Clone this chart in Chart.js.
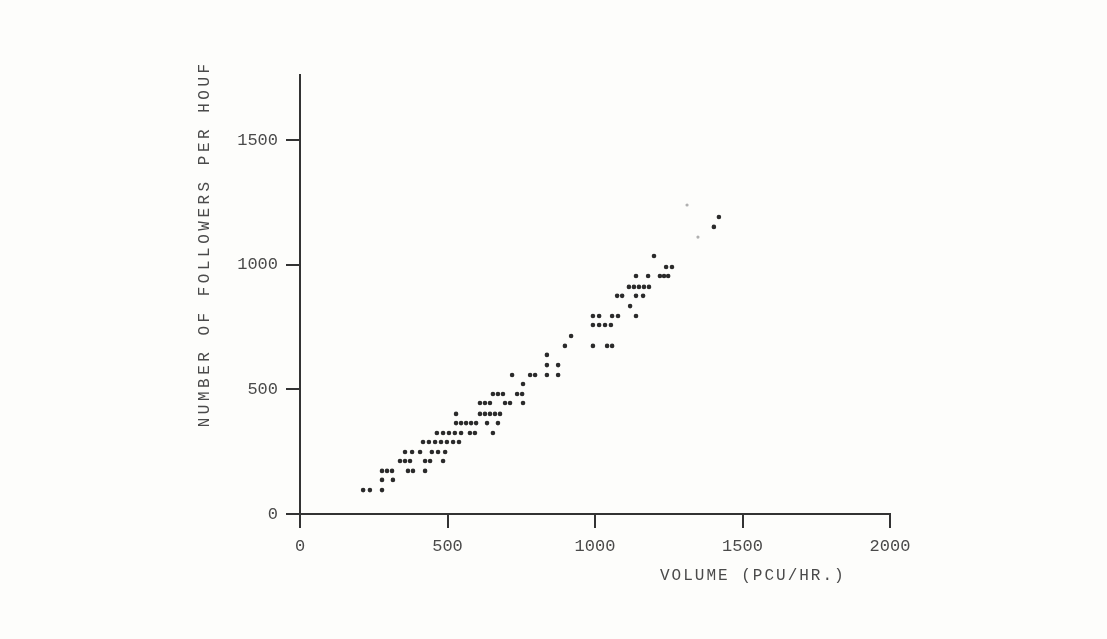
<!DOCTYPE html>
<html>
<head>
<meta charset="utf-8">
<script src="https://cdn.jsdelivr.net/npm/chart.js@4.4.1/dist/chart.umd.min.js"></script>
<style>
  html, body { margin: 0; padding: 0; background: #fdfdfb; }
  #wrap { width: 1107px; height: 639px; }
</style>
</head>
<body>
<div id="wrap"><canvas id="chart"></canvas></div>
<script>
// Tick labels
const xTicks = [0, 500, 1000, 1500, 2000];
const yTicks = [0, 500, 1000, 1500];

// Followers levels (one per printed row) and the volumes printed on each row
const rowFollowers = [96, 137, 173, 213, 249, 289, 325, 365, 402, 446, 482, 522, 558,
  598, 639, 675, 715, 759, 795, 835, 876, 912, 956, 992, 1036, 1153, 1193];
const rowVolumes = [
  [214, 237, 278],
  [278, 315],
  [278, 295, 312, 366, 383, 424],
  [339, 356, 373, 424, 441, 485],
  [356, 380, 407, 447, 468, 492],
  [417, 437, 458, 478, 498, 519, 539],
  [464, 485, 505, 525, 546, 576, 593, 654],
  [529, 546, 563, 580, 597, 634, 671],
  [529, 610, 627, 644, 661, 678],
  [610, 627, 644, 695, 712, 756],
  [654, 671, 688, 736, 753],
  [756],
  [719, 780, 797, 837, 875],
  [837, 875],
  [837],
  [898, 993, 1041, 1058],
  [919],
  [993, 1014, 1034, 1054],
  [993, 1014, 1058, 1078, 1139],
  [1119],
  [1075, 1092, 1139, 1163],
  [1115, 1132, 1149, 1166, 1183],
  [1139, 1180, 1220, 1234, 1248],
  [1241, 1261],
  [1200],
  [1403],
  [1420]
];

// Faint marks on the scan
const faintVolumes = [1349, 1312];
const faintFollowers = [1112, 1241];

// Build the point list
const points = [];
rowFollowers.forEach((f, i) => {
  rowVolumes[i].forEach(v => points.push({ x: v, y: f }));
});
const faintPoints = faintVolumes.map((v, i) => ({ x: v, y: faintFollowers[i] }));

const FONT = "'Liberation Mono', 'DejaVu Sans Mono', monospace";
const INK = '#2b2b2b';
const TEXT = '#4a4a4a';

// Draws the two axis titles in the places they sit on the scan
const axisTitles = {
  id: 'axisTitles',
  afterDraw(chart) {
    const ctx = chart.ctx;
    const xs = chart.scales.x;
    const ys = chart.scales.y;
    ctx.save();
    ctx.fillStyle = TEXT;
    ctx.font = '16px ' + FONT;
    ctx.textAlign = 'center';
    ctx.textBaseline = 'middle';
    ctx.letterSpacing = '2px';
    ctx.fillText('VOLUME (PCU/HR.)', xs.getPixelForValue(1535), ys.bottom + 62);
    ctx.letterSpacing = '3.5px';
    ctx.translate(ys.left + 205, ys.getPixelForValue(1085));
    ctx.rotate(-Math.PI / 2);
    ctx.fillText('NUMBER OF FOLLOWERS PER HOUF', 0, 0);
    ctx.restore();
  }
};

const ctx = document.getElementById('chart').getContext('2d');
new Chart(ctx, {
  type: 'scatter',
  data: {
    datasets: [
      {
        label: 'Followers',
        data: points,
        backgroundColor: INK,
        borderColor: INK,
        pointRadius: 2.3,
        borderWidth: 0,
      },
      {
        label: 'Faint',
        data: faintPoints,
        backgroundColor: '#b0b0b0',
        borderColor: '#b0b0b0',
        pointRadius: 1.6,
        borderWidth: 0,
      },
    ],
  },
  options: {
    responsive: true,
    maintainAspectRatio: false,
    animation: false,
    layout: { padding: { left: 0, right: 217, top: 75, bottom: 0 } },
    plugins: {
      legend: { display: false },
      tooltip: { enabled: false },
    },
    scales: {
      x: {
        type: 'linear',
        min: 0,
        max: 2000,
        afterBuildTicks: scale => { scale.ticks = xTicks.map(v => ({ value: v })); },
        afterFit: scale => { scale.height = 125; },
        border: { display: true, color: '#333', width: 2 },
        grid: { drawOnChartArea: false, drawTicks: true, tickLength: 14, color: '#333', lineWidth: 2 },
        ticks: {
          color: TEXT,
          padding: 8,
          maxRotation: 0,
          font: { family: FONT, size: 17 },
          callback: value => String(value),
        },
      },
      y: {
        type: 'linear',
        min: 0,
        max: 1763,
        afterBuildTicks: scale => { scale.ticks = yTicks.map(v => ({ value: v })); },
        afterFit: scale => { scale.width = 300; },
        border: { display: true, color: '#333', width: 2 },
        grid: { drawOnChartArea: false, drawTicks: true, tickLength: 14, color: '#333', lineWidth: 2 },
        ticks: {
          color: TEXT,
          padding: 8,
          font: { family: FONT, size: 17 },
          callback: value => String(value),
        },
      },
    },
  },
  plugins: [axisTitles],
});
</script>
</body>
</html>
